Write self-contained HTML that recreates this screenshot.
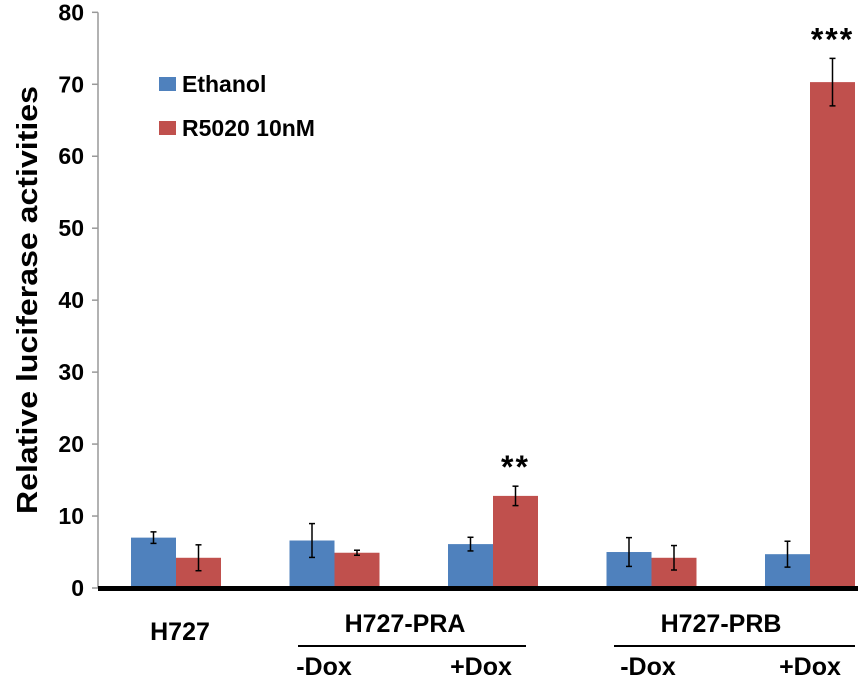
<!DOCTYPE html>
<html><head><meta charset="utf-8"><style>
html,body{margin:0;padding:0;background:#fff;}
svg{display:block;font-family:"Liberation Sans",Arial,sans-serif;font-weight:bold;}
</style></head><body>
<svg id="chart" width="861" height="677" viewBox="0 0 861 677">
<g id="axis"></g>
<g id="bars"></g>
<g id="labels">
  <text x="180" y="640" font-size="25" text-anchor="middle">H727</text>
  <text x="405" y="632" font-size="25" text-anchor="middle">H727-PRA</text>
  <text x="721" y="632" font-size="25" text-anchor="middle">H727-PRB</text>
  <line x1="298" y1="646" x2="526" y2="646" stroke="#000" stroke-width="2"/>
  <line x1="614" y1="646" x2="855" y2="646" stroke="#000" stroke-width="2"/>
  <text x="324" y="675" font-size="25" text-anchor="middle">-Dox</text>
  <text x="481" y="675" font-size="25" text-anchor="middle">+Dox</text>
  <text x="648" y="675" font-size="25" text-anchor="middle">-Dox</text>
  <text x="810" y="675" font-size="25" text-anchor="middle">+Dox</text>
</g>
<text transform="translate(37,300) rotate(-90)" font-size="29" text-anchor="middle" textLength="428" lengthAdjust="spacingAndGlyphs">Relative luciferase activities</text>
<g>
  <rect x="159" y="77" width="17" height="14" fill="#4f81bd"/>
  <text x="182" y="92" font-size="23">Ethanol</text>
  <rect x="159" y="121" width="17" height="14" fill="#c0504d"/>
  <text x="182" y="136" font-size="23">R5020 10nM</text>
</g>
</svg>
<script>
const categories = ["H727", "PRA -Dox", "PRA +Dox", "PRB -Dox", "PRB +Dox"];
const ethanolValues = [7.0, 6.6, 6.1, 5.0, 4.7];
const ethanolErrors = [0.8, 2.35, 0.95, 2.0, 1.8];
const r5020Values = [4.2, 4.9, 12.8, 4.2, 70.3];
const r5020Errors = [1.8, 0.35, 1.35, 1.7, 3.3];
const significance = ["", "", "**", "", "***"];
const yTicks = [0, 10, 20, 30, 40, 50, 60, 70, 80];

const NS = "http://www.w3.org/2000/svg";
const y0 = 588, pxPerUnit = 7.196;
function yScale(v){ return y0 - v * pxPerUnit; }
const barW = 45, firstX = 131, step = 158.5;
function xScale(i){ return firstX + i * step; }
function mk(tag, attrs, parent){
  const e = document.createElementNS(NS, tag);
  for (const k in attrs) e.setAttribute(k, attrs[k]);
  parent.appendChild(e); return e;
}
const axis = document.getElementById('axis');
const bars = document.getElementById('bars');
const ax = mk('line', {x1:98, y1:yScale(80), x2:98, y2:y0, stroke:'#999', 'stroke-width':1.5}, axis);


yTicks.forEach(t => {
  const tk = mk('line', {x1:92, y1:yScale(t), x2:98, y2:yScale(t), stroke:'#999', 'stroke-width':1.5}, axis);
  
  
  const tl = mk('text', {x:84, y:yScale(t)+8, 'font-size':23, 'text-anchor':'end'}, axis);
  tl.textContent = t;
  
  
});
function errBar(cx, v, e){
  const g = mk('g', {stroke:'#000', 'stroke-width':1.5}, bars);
  
  
  mk('line', {x1:cx, y1:yScale(v+e), x2:cx, y2:yScale(v-e)}, g);
  mk('line', {x1:cx-3, y1:yScale(v+e), x2:cx+3, y2:yScale(v+e)}, g);
  mk('line', {x1:cx-3, y1:yScale(v-e), x2:cx+3, y2:yScale(v-e)}, g);
}
categories.forEach((c, i) => {
  const x = xScale(i);
  const b = mk('rect', {x:x, y:yScale(ethanolValues[i]), width:barW, height:ethanolValues[i]*pxPerUnit, fill:'#4f81bd'}, bars);
  
  
  const r = mk('rect', {x:x+barW, y:yScale(r5020Values[i]), width:barW, height:r5020Values[i]*pxPerUnit, fill:'#c0504d'}, bars);
  
  
  errBar(x + barW/2, ethanolValues[i], ethanolErrors[i]);
  errBar(x + barW*1.5, r5020Values[i], r5020Errors[i]);
  if (significance[i]) {
    const s = mk('text', {x:x+barW*1.5, y:yScale(r5020Values[i]+r5020Errors[i])-8, 'font-size':32, 'text-anchor':'middle', 'letter-spacing':'2'}, bars);
    s.textContent = significance[i];
    
    
  }
});
const base = mk('rect', {x:98, y:y0-2, width:760, height:5, fill:'#000'}, bars);


</script>
</body></html>
